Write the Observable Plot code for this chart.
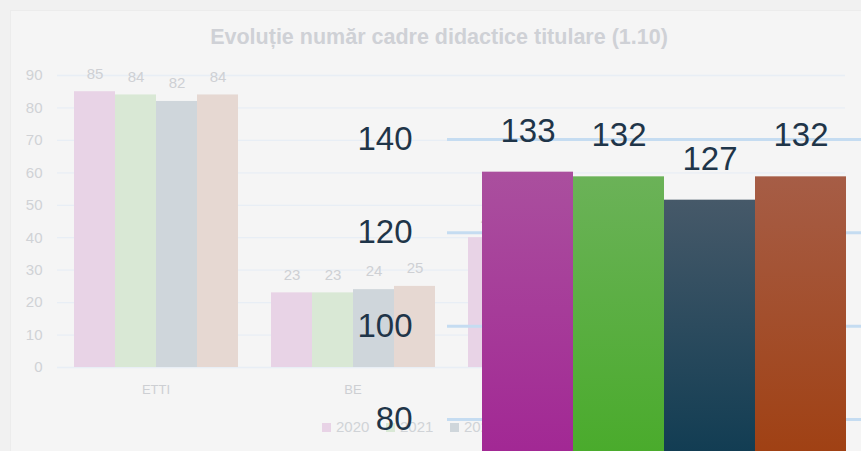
<!DOCTYPE html>
<html>
<head>
<meta charset="utf-8">
<script src="https://cdn.jsdelivr.net/npm/d3@7"></script>
<script src="https://cdn.jsdelivr.net/npm/@observablehq/plot@0.6"></script>
<style>
  html, body { margin: 0; padding: 0; background: #f1f1f1; overflow: hidden; }
  #wrap { position: relative; width: 861px; height: 451px; overflow: hidden; font-family: "Liberation Sans", Arial, sans-serif; }
  #card { position: absolute; left: 10px; top: 10px; width: 860px; height: 450px; background: #f5f5f5; border: 1px solid #ececec; box-sizing: border-box; }
  #title { position: absolute; left: 0; width: 878px; top: 25px; text-align: center; font-weight: bold; font-size: 21.5px; color: #cfd1d6; }
  .layer { position: absolute; left: 0; top: 0; }
  #legend { position: absolute; left: 322px; top: 418px; display: flex; font-size: 15px; color: #d0d3d7; line-height: 18px; }
  #legend .item { display: flex; align-items: center; width: 64px; }
  #legend .sw { width: 9px; height: 9px; margin-right: 5px; }
</style>
</head>
<body>
<div id="wrap">
  <div id="card"></div>
  <div id="title">Evoluție număr cadre didactice titulare (1.10)</div>
  <div id="legend"></div>
</div>
<script>
// ---- data ----
const years = ["2020", "2021", "2022", "2023"];
const categories = ["ETTI", "BE", "ACS", "EA"];
const values2020 = [85, 23, 40, 20];
const values2021 = [84, 23, 40, 20];
const values2022 = [82, 24, 38, 19];
const values2023 = [84, 25, 40, 18];
const yTicks = [0, 10, 20, 30, 40, 50, 60, 70, 80, 90];

const overlayValues = [133, 132, 127, 132];
const overlayTicks = [80, 100, 120, 140];
const overlayFloor = 73;

// ---- styles ----
const fadedColors = ["#e8d3e6", "#d9e8d5", "#cfd6db", "#e6d8d2"];
const gradTop = ["#aa4f9e", "#6bb258", "#465969", "#a65d46"];
const gradBottom = ["#a22894", "#4aab2c", "#123d53", "#a04114"];

const series = [values2020, values2021, values2022, values2023];
const rows = [];
categories.forEach((c, i) => years.forEach((y, j) => rows.push({category: c, year: y, value: series[j][i]})));
const overlayRows = years.map((y, i) => ({year: y, value: overlayValues[i]}));

const wrap = document.getElementById("wrap");
const legend = document.getElementById("legend");

// grid + y axis (background chart)
const grid = Plot.plot({
  width: 861, height: 451,
  marginLeft: 57, marginRight: 16, marginTop: 75, marginBottom: 84,
  style: {background: "transparent", fontSize: "15px", color: "#d0d2d6", fontFamily: "Liberation Sans, Arial, sans-serif"},
  y: {domain: [0, 90], ticks: yTicks, tickSize: 0, tickPadding: 15, label: null},
  marks: [
    Plot.ruleY(yTicks, {stroke: "#e8eef5", strokeWidth: 1.3})
  ]
});
grid.classList.add("layer");
wrap.insertBefore(grid, legend);

// bars (background chart)
const bars = Plot.plot({
  width: 861, height: 451,
  marginLeft: 57, marginRight: 16, marginTop: 75, marginBottom: 84,
  style: {background: "transparent", fontSize: "13px", color: "#cdcfd3", fontFamily: "Liberation Sans, Arial, sans-serif"},
  fx: {domain: categories, paddingInner: 0.16, paddingOuter: 0.08, axis: "bottom", tickSize: 0, tickPadding: 17, label: null},
  x: {domain: years, padding: 0, axis: null},
  y: {domain: [0, 90], axis: null},
  color: {domain: years, range: fadedColors},
  marks: [
    Plot.barY(rows, {fx: "category", x: "year", y: "value", fill: "year"}),
    Plot.text(rows, {fx: "category", x: "year", y: "value", text: d => String(d.value), dy: -18, fill: "#ced0d4", fontSize: 15})
  ]
});
bars.classList.add("layer");
wrap.insertBefore(bars, legend);

// legend
years.forEach((y, i) => {
  const it = document.createElement("div");
  it.className = "item";
  it.innerHTML = `<span class="sw" style="background:${fadedColors[i]}"></span><span>${y}</span>`;
  legend.appendChild(it);
});

// overlay (magnified chart)
const overlay = Plot.plot({
  width: 861, height: 451,
  marginLeft: 447, marginRight: 0, marginTop: 0, marginBottom: 0,
  style: {background: "transparent", fontSize: "33px", color: "#1f3549", fontFamily: "Liberation Sans, Arial, sans-serif", overflow: "hidden"},
  x: {domain: years, range: [481, 847], padding: 0, axis: null},
  y: {domain: [80, 140], range: [419, 139], ticks: overlayTicks, tickSize: 0, tickPadding: 35, label: null},
  color: {domain: years, range: years.map((_, i) => `url(#og${i})`)},
  marks: [
    Plot.ruleY(overlayTicks, {stroke: "#c5dcf1", strokeWidth: 3}),
    Plot.barY(overlayRows, {x: "year", y1: overlayFloor, y2: "value", fill: "year"}),
    Plot.text(overlayRows, {x: "year", y: "value", text: d => String(d.value), dy: -41, fill: "#1f3549", fontSize: 33})
  ]
});
overlay.insertAdjacentHTML("afterbegin", "<defs>" + years.map((_, i) =>
  `<linearGradient id="og${i}" x1="0" y1="0" x2="0" y2="1"><stop offset="0" stop-color="${gradTop[i]}"/><stop offset="1" stop-color="${gradBottom[i]}"/></linearGradient>`
).join("") + "</defs>");
overlay.classList.add("layer");
wrap.appendChild(overlay);
</script>
</body>
</html>
